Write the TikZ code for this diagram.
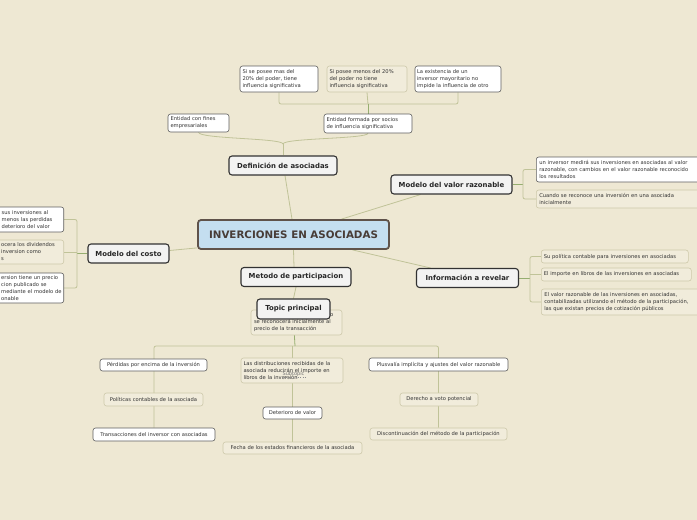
\documentclass[tikz,border=0pt]{standalone}
\usepackage{fontspec}
\setmainfont{DejaVu Sans}
\definecolor{bg}{RGB}{238,232,211}
\definecolor{bfill}{RGB}{241,236,219}
\definecolor{bdraw}{RGB}{206,201,170}
\definecolor{wdraw}{RGB}{95,95,95}
\definecolor{mfill}{RGB}{243,243,242}
\definecolor{mdraw}{RGB}{50,50,50}
\definecolor{cfill}{RGB}{196,222,240}
\definecolor{cdraw}{RGB}{95,82,74}
\definecolor{ctxt}{RGB}{72,60,55}
\definecolor{txt}{RGB}{50,50,50}
\definecolor{lineC}{RGB}{192,195,152}
\definecolor{lineD}{RGB}{150,174,112}
\pgfdeclarelayer{back}
\pgfdeclarelayer{wires}
\pgfsetlayers{back,wires,main}
\tikzset{
 sm/.style={font=\fontsize{5.2}{7}\selectfont, text=txt, inner sep=0pt, align=left},
 wbox/.style={sm, fill=white, draw=wdraw, line width=0.6pt, rounded corners=2.5pt},
 bbox/.style={sm, fill=bfill, draw=bdraw, line width=0.6pt, rounded corners=2.5pt},
 main/.style={font=\fontsize{6.9}{8}\selectfont\bfseries, text=black!85, fill=mfill, draw=mdraw, line width=1.1pt, rounded corners=3pt, inner sep=0pt},
 cen/.style={font=\fontsize{10.3}{12}\selectfont\bfseries, text=ctxt, fill=cfill, draw=cdraw, line width=1.8pt, rounded corners=3pt, inner sep=0pt},
 conn/.style={draw=lineC, line width=0.8pt},
 connD/.style={draw=lineD, line width=0.8pt},
}
\begin{document}
\begin{tikzpicture}[x=1pt,y=-1pt]
\useasboundingbox (0,0) rectangle (697,520);
\begin{pgfonlayer}{back}
\fill[bg] (0,0) rectangle (697,520);
\end{pgfonlayer}

% center and main topics
\node[cen, minimum width=191, minimum height=29] (cen) at (293.5,234.5) {INVERCIONES EN ASOCIADAS};
\node[main, minimum width=108, minimum height=19] (def) at (283,165.5) {Definición de asociadas};
\node[main, minimum width=121, minimum height=19] (mvr) at (451.5,184.5) {Modelo del valor razonable};
\node[main, minimum width=102, minimum height=19] (inf) at (467.5,278) {Información a revelar};
\node[main, minimum width=81, minimum height=19] (mco) at (128.5,253.5) {Modelo del costo};
\node[main, minimum width=110, minimum height=19] (met) at (296,277) {Metodo de participacion};
\node[bbox, minimum width=91, minimum height=25, text width=85] (sub0) at (296.5,322.5) {\hspace*{76pt}o\\se reconocerá inicialmente al\\precio de la transacción};
\node[main, minimum width=73, minimum height=20] (top) at (293.5,309) {Topic principal};

% Definicion children
\node[wbox, minimum width=61, minimum height=18, text width=56] (ecf) at (198.5,123) {Entidad con fines\\empresariales};
\node[wbox, minimum width=88, minimum height=19, text width=83] (efs) at (368,123.5) {Entidad formada por socios\\de influencia significativa};
\node[wbox, minimum width=78, minimum height=26, text width=73] (sa) at (279,79) {Si se posee mas del\\20\% del poder, tiene\\influencia significativa};
\node[bbox, minimum width=80, minimum height=26, text width=75] (sb) at (367,79) {Si posee menos del 20\%\\del poder no tiene\\influencia significativa};
\node[wbox, minimum width=86, minimum height=26, text width=82] (sc) at (458,79) {La existencia de un\\inversor mayoritario no\\impide la influencia de otro};

% Valor razonable children
\node[wbox, anchor=west, minimum width=170, minimum height=25, text width=164] (v1) at (536,169.5) {un inversor medirá sus inversiones en asociadas al valor\\razonable, con cambios en el valor razonable reconocido\\los resultados};
\node[bbox, anchor=west, minimum width=170, minimum height=18, text width=164] (v2) at (536,199) {Cuando se reconoce una inversión en una asociada\\inicialmente};

% Informacion children
\node[bbox, anchor=west, minimum width=147, minimum height=13, text width=142] (i1) at (541,256.5) {Su política contable para inversiones en asociadas};
\node[bbox, anchor=west, minimum width=150, minimum height=13, text width=145] (i2) at (541,274.5) {El importe en libros de las inversiones en asociadas};
\node[bbox, anchor=west, minimum width=170, minimum height=26, text width=164] (i3) at (541,302) {El valor razonable de las inversiones en asociadas,\\contabilizadas utilizando el método de la participación,\\las que existan precios de cotización públicos};

% Costo children (cut by the left edge)
\node[wbox, anchor=east, minimum width=90, minimum height=25] (c1) at (64,219.5) {};
\node[sm, anchor=west, text width=62] (c1t) at (1.5,219.5) {sus inversiones al\\menos las perdidas\\deterioro del valor};
\node[bbox, anchor=east, minimum width=90, minimum height=24] (c2) at (64,252) {};
\node[sm, anchor=west, text width=62] (c2t) at (1,252) {ocera los dividendos\\inversion como\\s};
\node[wbox, anchor=east, minimum width=90, minimum height=30] (c3) at (64,288) {};
\node[sm, anchor=west, text width=62] (c3t) at (1,288) {ersion tiene un precio\\cion publicado se\\mediante el modelo de\\onable};

% bottom subtopics
\node[wbox, minimum width=107, minimum height=12] (p1) at (153.5,365) {Pérdidas por encima de la inversión};
\node[bbox, minimum width=99, minimum height=13] (p2) at (153.5,399.5) {Políticas contables de la asociada};
\node[wbox, minimum width=122, minimum height=13] (p3) at (154,434.5) {Transacciones del inversor con asociadas};
\node[bbox, minimum width=102, minimum height=25, text width=97] (q1) at (292,370.5) {Las distribuciones recibidas de la\\asociada reducirán el importe en\\libros de la inversión};
\node[font=\fontsize{5}{6}\selectfont, text=black!55, inner sep=0.5pt] (ghost) at (293.5,374.5) {Subtopic};
\node[wbox, minimum width=59, minimum height=12] (q2) at (292.5,413) {Deterioro de valor};
\node[bbox, minimum width=139, minimum height=12] (q3) at (292.5,448) {Fecha de los estados financieros de la asociada};
\node[wbox, minimum width=139, minimum height=13] (r1) at (438.5,364.5) {Plusvalía implícita y ajustes del valor razonable};
\node[bbox, minimum width=78, minimum height=13] (r2) at (439,399.5) {Derecho a voto potencial};
\node[bbox, minimum width=137, minimum height=12] (r3) at (438.5,434) {Discontinuación del método de la participación};

\coordinate (dj) at (283,144);
\coordinate (bj) at (368,104);
\coordinate (vj) at (523,184.5);
\coordinate (ij) at (530,278);
\coordinate (cj) at (77,253.5);
\coordinate (tj) at (295,346);

\begin{pgfonlayer}{wires}
\draw[conn] ([xshift=-1.5pt]cen.north) -- ([xshift=2pt]def.south);
\draw[conn] ([xshift=48pt]cen.north) -- ([xshift=-31pt]mvr.south);
\draw[conn] ([xshift=59pt]cen.south) -- ([xshift=-37pt]inf.north);
\draw[conn] ([yshift=2pt]cen.south west) -- ([yshift=3pt]mco.east);
\draw[conn] (cen.south) -- ([xshift=-2pt]met.north);
\draw[conn] (met.south) -- (top.north);
% definicion
\draw[conn] (def.north) -- (dj);
\draw[conn] (dj) .. controls (283,138) and (199,139) .. (ecf.south);
\draw[conn] (dj) .. controls (283,138) and (367,139) .. (efs.south);
\draw[conn, rounded corners=2pt] (sa.south) |- (bj) -| (sc.south);
\draw[conn] (sb.south) -- (bj);
\draw[connD] (efs.north) -- (bj);
% valor razonable
\draw[connD] (mvr.east) -- (vj);
\draw[conn, rounded corners=2pt] (v1.west) -| (vj) |- (v2.west);
% informacion
\draw[connD] (inf.east) -- (ij);
\draw[conn, rounded corners=2pt] (i1.west) -| (ij) |- (i3.west);
\draw[conn] (i2.west) -- (ij |- i2.west);
% costo
\draw[connD] (mco.west) -- (cj);
\draw[conn, rounded corners=2pt] (c1.east) -| (cj) |- (c3.east);
\draw[conn] (c2.east) -- (cj |- c2.east);
% bottom
\draw[conn, rounded corners=2pt] (p3.north) |- (tj) -| (r3.north);
\draw[conn] (q3.north) -- (q3.north |- tj);
\draw[connD] (top.south) -- (tj);
\end{pgfonlayer}
\draw[black!45, line width=0.3pt, dotted] (ghost.south west) -- (ghost.south east);
\end{tikzpicture}
\end{document}
